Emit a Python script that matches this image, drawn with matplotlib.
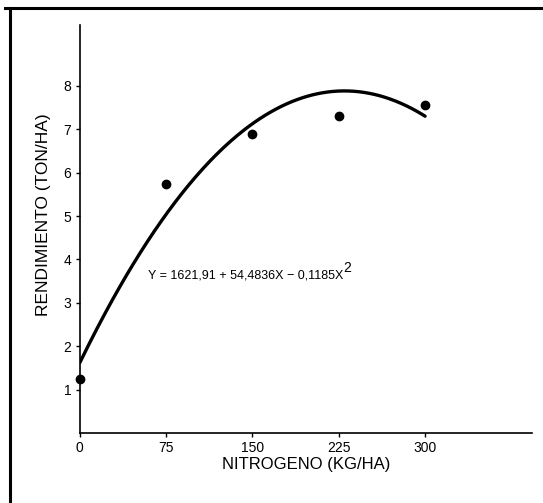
import numpy as np
import matplotlib.pyplot as plt
from matplotlib.lines import Line2D

plt.rcParams['font.family'] = ['Liberation Sans', 'DejaVu Sans']

# observed yields (ton/ha) per nitrogen dose (kg/ha)
nitrogeno = [0, 75, 150, 225, 300]
rendimiento = [1.25, 5.75, 6.9, 7.3, 7.55]

# fitted quadratic, Y in kg/ha
coef = [1621.91, 54.4836, -0.1185]

xticks = [0, 75, 150, 225, 300]
yticks = [1, 2, 3, 4, 5, 6, 7, 8]

fig = plt.figure(figsize=(5.43, 5.03), dpi=100)
ax = fig.add_axes([0.147, 0.139, 0.833, 0.811])

xs = np.linspace(0, 300, 200)
ys = (coef[0] + coef[1] * xs + coef[2] * xs ** 2) / 1000
ax.plot(xs, ys, color='black', lw=2.4, solid_capstyle='round')
ax.plot(nitrogeno, rendimiento, 'o', color='black', markersize=6, clip_on=False)

ax.set_xlim(0, 393)
ax.set_ylim(0, 9.4)
ax.set_xticks(xticks)
ax.set_yticks(yticks)
ax.tick_params(length=3, width=1, labelsize=10, pad=3)
for s in ['top', 'right']:
    ax.spines[s].set_visible(False)
for s in ['left', 'bottom']:
    ax.spines[s].set_linewidth(1.2)

ax.set_xlabel('NITROGENO (KG/HA)', fontsize=12, labelpad=1)
ax.set_ylabel('RENDIMIENTO (TON/HA)', fontsize=12.5)
ax.yaxis.set_label_coords(-0.064, 0.535)
eq = ax.text(59, 3.64, 'Y = 1621,91 + 54,4836X \u2212 0,1185X',
             fontsize=9, va='center', ha='left')
ax.annotate('2', xy=(1.0, 0.55), xycoords=eq, fontsize=10,
            ha='left', va='bottom')

# scanned frame around the figure
fig.add_artist(Line2D([0.018, 0.018], [0.0, 0.984], color='black', lw=2.2))
fig.add_artist(Line2D([0.01, 1.0], [0.984, 0.984], color='black', lw=2.2))

plt.savefig('out.png', dpi=100)
